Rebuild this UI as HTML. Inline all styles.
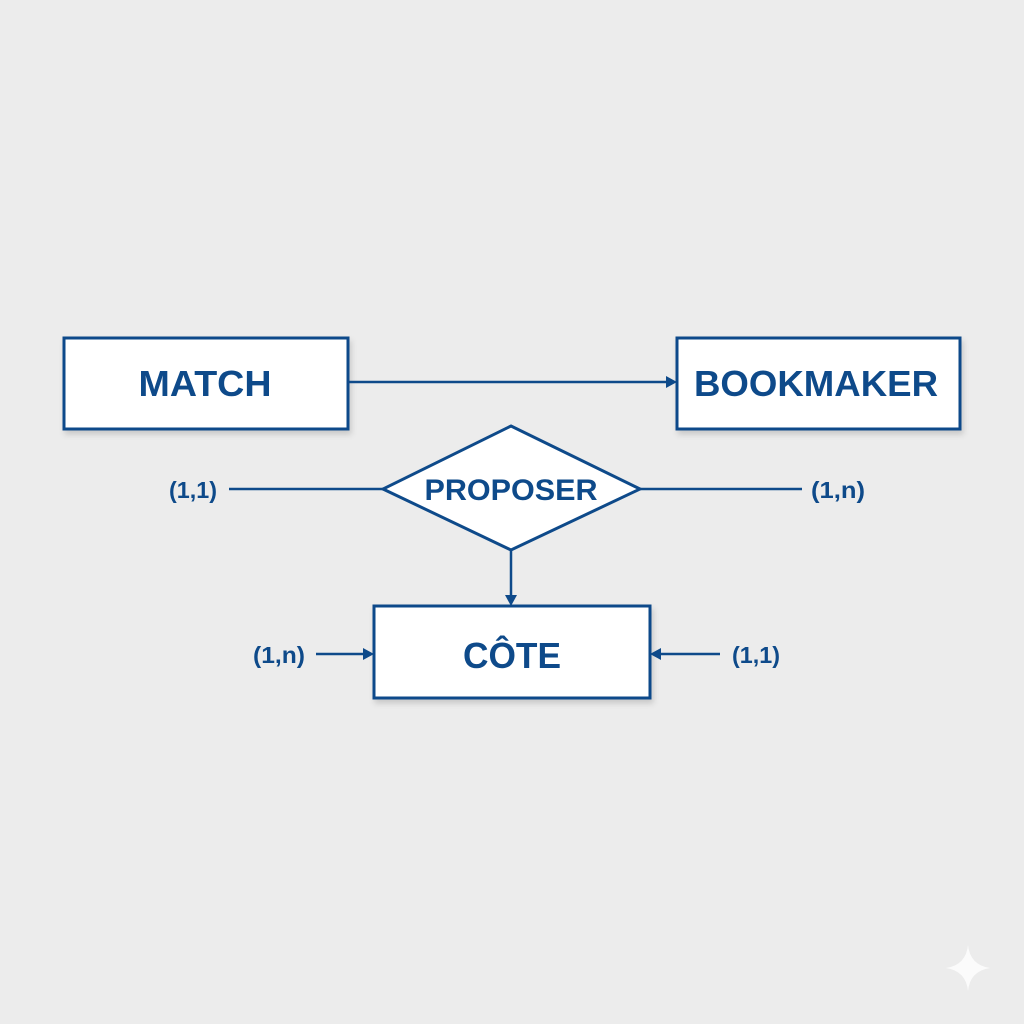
<!DOCTYPE html>
<html><head><style>
html,body{margin:0;padding:0;background:#ececec;}
svg{display:block}
text{font-family:"Liberation Sans",sans-serif;font-weight:bold;fill:#0e4a8a}
</style></head><body>
<svg width="1024" height="1024" viewBox="0 0 1024 1024">
<defs>
<filter id="s" x="-10%" y="-10%" width="130%" height="140%"><feDropShadow dx="2" dy="4" stdDeviation="3" flood-color="#000" flood-opacity="0.15"/></filter>
</defs>
<rect width="1024" height="1024" fill="#ececec"/>
<g stroke="#0e4a8a" stroke-width="3" fill="#fff">
<rect x="64" y="338" width="284" height="91" filter="url(#s)"/>
<rect x="677" y="338" width="283" height="91" filter="url(#s)"/>
<rect x="374" y="606" width="276" height="92" filter="url(#s)"/>
<polygon points="511,426 640,489 511,550 383,489"/>
</g>
<g stroke="#0e4a8a" stroke-width="2.5" fill="none">
<line x1="348" y1="382" x2="668" y2="382"/>
<line x1="229" y1="489" x2="383" y2="489"/>
<line x1="640" y1="489" x2="802" y2="489"/>
<line x1="511" y1="550" x2="511" y2="598"/>
<line x1="316" y1="654" x2="366" y2="654"/>
<line x1="658" y1="654" x2="720" y2="654"/>
</g>
<g fill="#0e4a8a">
<polygon points="677,382 666,376 666,388"/>
<polygon points="511,606 505,595 517,595"/>
<polygon points="374,654 363,648 363,660"/>
<polygon points="650,654 661,648 661,660"/>
</g>
<text x="205" y="396" font-size="36" text-anchor="middle" textLength="133" lengthAdjust="spacingAndGlyphs">MATCH</text>
<text x="816" y="396" font-size="36" text-anchor="middle" textLength="244" lengthAdjust="spacingAndGlyphs">BOOKMAKER</text>
<text x="511" y="500" font-size="30" text-anchor="middle" textLength="173" lengthAdjust="spacingAndGlyphs">PROPOSER</text>
<text x="512" y="668" font-size="36" text-anchor="middle" textLength="98" lengthAdjust="spacingAndGlyphs">CÔTE</text>
<text x="193" y="498" font-size="23" text-anchor="middle" textLength="48" lengthAdjust="spacingAndGlyphs">(1,1)</text>
<text x="838" y="498" font-size="23" text-anchor="middle" textLength="54" lengthAdjust="spacingAndGlyphs">(1,n)</text>
<text x="279" y="663" font-size="23" text-anchor="middle" textLength="52" lengthAdjust="spacingAndGlyphs">(1,n)</text>
<text x="756" y="663" font-size="23" text-anchor="middle" textLength="48" lengthAdjust="spacingAndGlyphs">(1,1)</text>
<path d="M968 945 Q970 965 990 968 Q970 971 968 991 Q966 971 946 968 Q966 965 968 945Z" fill="#fff" opacity="0.8"/>
</svg>
</body></html>
